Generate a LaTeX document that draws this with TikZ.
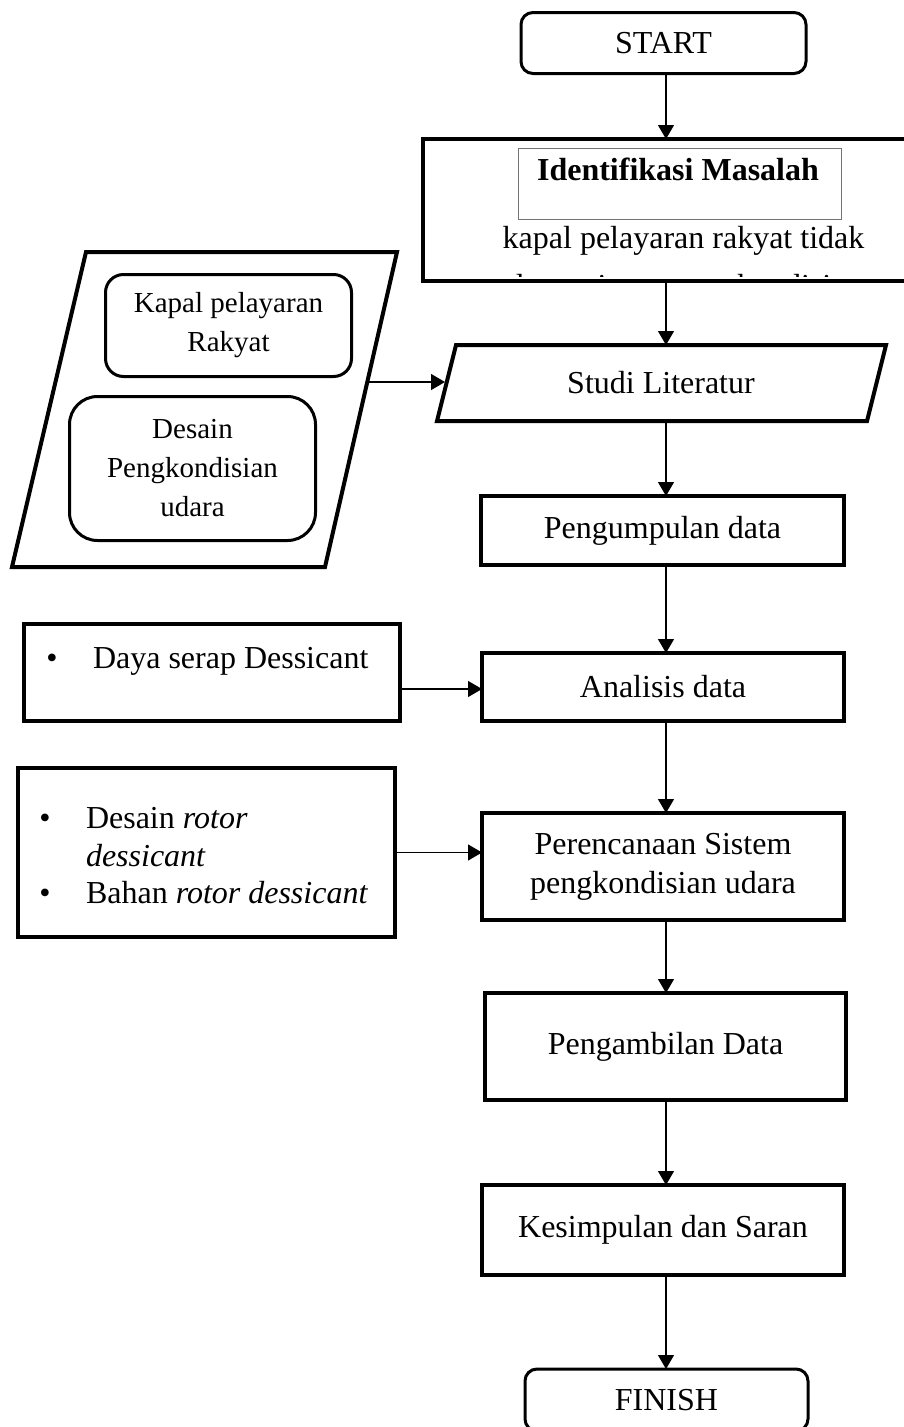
\documentclass[tikz,border=0pt]{standalone}
\usepackage{fontspec}
\setmainfont{Liberation Serif}
\usetikzlibrary{arrows.meta}
\begin{document}
\begin{tikzpicture}[x=1pt,y=-1pt,
  every node/.style={font=\fontsize{32}{39}\selectfont, inner sep=0pt, outer sep=0pt},
  box/.style={draw, line width=4pt, align=center},
  rbox/.style={draw, line width=3pt, rounded corners=12pt, align=center},
  smalltext/.style={font=\fontsize{29}{39}\selectfont},
  arr/.style={line width=1.3pt, -{Triangle[length=14pt,width=16pt]}},
  shapeline/.style={line width=4pt, line join=miter}
]
\useasboundingbox (0,0) rectangle (904,1427);
\clip (0,0) rectangle (904,1427);

% START
\node[rbox, minimum width=285pt, minimum height=61pt] (start) at (663.5,43) {START};

% Identifikasi Masalah
\node[box, minimum width=497pt, minimum height=142pt] (ident) at (671.5,210) {};
\node[draw=black!55, line width=1pt, minimum width=323pt, minimum height=71pt] (identin) at (679.5,183.5) {};
\node[anchor=base, font=\fontsize{32}{39}\selectfont\bfseries] (identtitle) at (678,180) {Identifikasi Masalah};
\node[anchor=base] (identtext) at (683.5,248) {kapal pelayaran rakyat tidak};
\begin{scope}
  \clip (426,141) rectangle (900,276.5);
  \node[anchor=base west] (identmore) at (474,296.5) {terdapat sistem pengkondisian};
\end{scope}

% big input parallelogram
\draw[shapeline] (86,252) -- (397,252) -- (325,567) -- (12,567) -- cycle;
\coordinate (parout) at (367,382);
\node[rbox, smalltext, rounded corners=18pt, minimum width=246pt, minimum height=102pt] (kapal) at (228.5,325.5) {Kapal pelayaran\\Rakyat};
\node[rbox, smalltext, rounded corners=28pt, minimum width=246pt, minimum height=144pt] (desain) at (192.5,468.5) {Desain\\Pengkondisian\\udara};

% Studi Literatur parallelogram
\draw[shapeline] (456,345) -- (886,345) -- (867,421) -- (437,421) -- cycle;
\node (lit) at (661,383) {Studi Literatur};
\coordinate (litin) at (445,382);
\coordinate (littop) at (666,345);
\coordinate (litbot) at (666,421);

% main column
\node[box, minimum width=363pt, minimum height=69pt] (kumpul) at (662.5,530.5) {Pengumpulan data};
\node[box, minimum width=362pt, minimum height=68pt] (anal) at (663,687) {Analisis data};
\node[box, minimum width=362pt, minimum height=107pt] (plan) at (663,866.5) {Perencanaan Sistem\\pengkondisian udara};
\node[box, minimum width=361pt, minimum height=107pt] (ambil) at (665.5,1046.5) {Pengambilan Data};
\node[box, minimum width=362pt, minimum height=90pt] (simpul) at (663,1230) {Kesimpulan dan Saran};
\node[rbox, minimum width=283pt, minimum height=62pt] (finish) at (666.5,1400) {FINISH};

% left boxes
\node[box, minimum width=376pt, minimum height=97pt] (daya) at (212,672.5) {};
\node[anchor=base] (b1) at (52,668) {•};
\node[anchor=base west] (dayatext) at (93,668) {Daya serap Dessicant};
\coordinate (dayaout) at (400,689);

\node[box, minimum width=377pt, minimum height=169pt] (rotor) at (206.5,852.5) {};
\node[anchor=base] (b2) at (45,828) {•};
\node[anchor=base] (b3) at (45,903) {•};
\node[anchor=base west] (r1) at (86,828) {Desain \textit{rotor}};
\node[anchor=base west] (r2) at (86,866) {\textit{dessicant}};
\node[anchor=base west] (r3) at (86,903) {Bahan \textit{rotor dessicant}};

% connectors
\coordinate (axis) at (666,0);
\draw[arr] (start.south -| axis) -- (ident.north -| axis);
\draw[arr] (ident.south -| axis) -- (littop);
\draw[arr] (litbot) -- (kumpul.north -| axis);
\draw[arr] (kumpul.south -| axis) -- (anal.north -| axis);
\draw[arr] (anal.south -| axis) -- (plan.north -| axis);
\draw[arr] (plan.south -| axis) -- (ambil.north -| axis);
\draw[arr] (ambil.south -| axis) -- (simpul.north -| axis);
\draw[arr] (simpul.south -| axis) -- (finish.north -| axis);
\draw[arr] (parout) -- (litin);
\draw[arr] (dayaout) -- (dayaout -| anal.west);
\draw[arr] (rotor.east) -- (rotor.east -| plan.west);
\end{tikzpicture}
\end{document}
